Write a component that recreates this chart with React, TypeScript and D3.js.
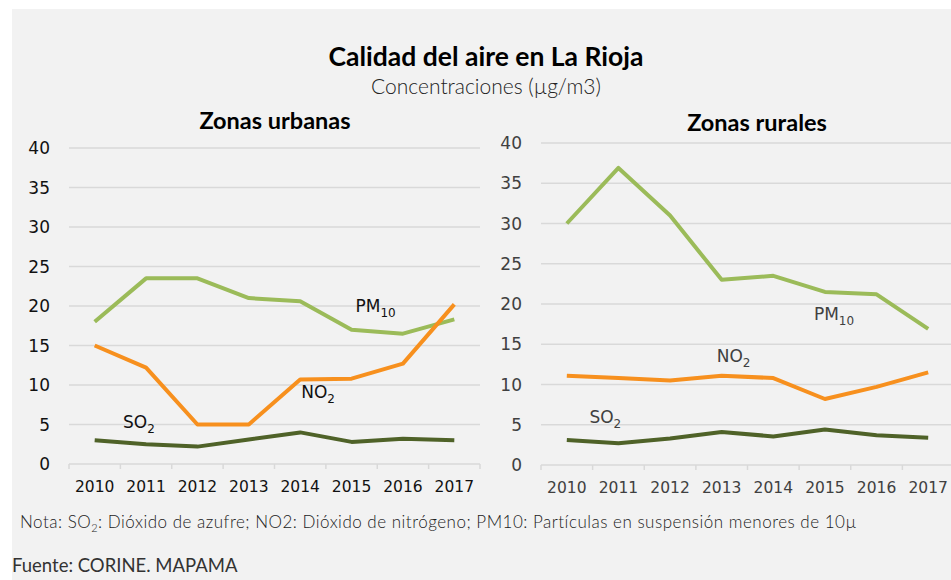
import React from 'react'
import * as d3 from 'd3'

const years = ['2010', '2011', '2012', '2013', '2014', '2015', '2016', '2017']
const yTicks = [0, 5, 10, 15, 20, 25, 30, 35, 40]

// Zonas urbanas
const urbanPM10 = [18.0, 23.5, 23.5, 21.0, 20.6, 17.0, 16.5, 18.3]
const urbanNO2 = [15.0, 12.2, 5.0, 5.0, 10.7, 10.8, 12.7, 20.2]
const urbanSO2 = [3.0, 2.5, 2.2, 3.1, 4.0, 2.8, 3.2, 3.0]

// Zonas rurales
const ruralPM10 = [30.0, 36.9, 31.0, 23.0, 23.5, 21.5, 21.2, 16.9]
const ruralNO2 = [11.1, 10.8, 10.5, 11.1, 10.8, 8.2, 9.7, 11.5]
const ruralSO2 = [3.1, 2.7, 3.3, 4.1, 3.55, 4.4, 3.7, 3.4]

const GREEN = '#9bbb59'
const ORANGE = '#f7901e'
const OLIVE = '#4f6228'
const GRID = '#d9d9d9'
const AXIS_FONT = 'DejaVu Sans, Verdana, sans-serif'
const TITLE_FONT = 'Lato, Open Sans, sans-serif'

type Label = { text: string; sub: string; year: string; value: number; dx: number }

type PanelProps = {
  title: string
  titleX: number
  titleY: number
  x0: number
  x1: number
  yTop: number
  yBottom: number
  labelX: number
  labelColor: string
  pm10: number[]
  no2: number[]
  so2: number[]
  labels: Label[]
}

const Panel = (p: PanelProps) => {
  const xScale = d3.scaleBand().domain(years).range([p.x0, p.x1])
  const yScale = d3.scaleLinear().domain([0, 40]).range([p.yBottom, p.yTop])
  const cx = (y: string) => (xScale(y) ?? 0) + xScale.bandwidth() / 2
  const line = d3
    .line<number>()
    .x((d, i) => cx(years[i]))
    .y((d) => yScale(d))

  const series = [
    { values: p.pm10, color: GREEN },
    { values: p.no2, color: ORANGE },
    { values: p.so2, color: OLIVE },
  ]

  return (
    <g>
      <text
        x={p.titleX}
        y={p.titleY}
        textAnchor="middle"
        fontFamily={TITLE_FONT}
        fontWeight={700}
        fontSize={23.5}
        fill="#000"
      >
        {p.title}
      </text>
      {/* grid */}
      {yTicks.map((t) => (
        <g key={t}>
          <line
            x1={p.x0}
            x2={p.x1}
            y1={yScale(t)}
            y2={yScale(t)}
            stroke={GRID}
            strokeWidth={1.5}
          />
          <text
            x={p.labelX}
            y={yScale(t)}
            dy="0.36em"
            textAnchor="end"
            fontFamily={AXIS_FONT}
            fontSize={17}
            fill={p.labelColor}
          >
            {t}
          </text>
        </g>
      ))}
      {/* x ticks */}
      {years.concat(['end']).map((y, i) => {
        const x = p.x0 + i * xScale.bandwidth()
        return (
          <line
            key={y}
            x1={x}
            x2={x}
            y1={p.yBottom}
            y2={p.yBottom + 5}
            stroke={GRID}
            strokeWidth={1.5}
          />
        )
      })}
      {years.map((y) => (
        <text
          key={y}
          x={cx(y)}
          y={p.yBottom + 28}
          textAnchor="middle"
          fontFamily={AXIS_FONT}
          fontSize={15.5}
          fill={p.labelColor}
        >
          {y}
        </text>
      ))}
      {series.map((s, i) => (
        <path
          key={i}
          d={line(s.values) ?? ''}
          fill="none"
          stroke={s.color}
          strokeWidth={4}
          strokeLinejoin="round"
        />
      ))}
      {p.labels.map((l) => (
        <text
          key={l.text}
          x={cx(l.year) + l.dx}
          y={yScale(l.value)}
          fontFamily={AXIS_FONT}
          fontSize={17}
          fill={p.labelColor}
        >
          {l.text}
          <tspan dy={5} fontSize={12}>
            {l.sub}
          </tspan>
        </text>
      ))}
    </g>
  )
}

const App = () => {
  return (
    <svg
      width={951}
      height={580}
      style={{ position: 'absolute', left: 0, top: 0, display: 'block' }}
    >
      <rect x={0} y={0} width={951} height={580} fill="#fff" />
      <rect x={12} y={9} width={939} height={571} fill="#f2f2f2" />
      <text
        x={486}
        y={66}
        textAnchor="middle"
        fontFamily={TITLE_FONT}
        fontWeight={700}
        fontSize={26.5}
        fill="#000"
      >
        Calidad del aire en La Rioja
      </text>
      <text
        x={486}
        y={94}
        textAnchor="middle"
        fontFamily={TITLE_FONT}
        fontWeight={300}
        fontSize={21}
        fill="#222"
      >
        Concentraciones (µg/m3)
      </text>
      <Panel
        title="Zonas urbanas"
        titleX={275}
        titleY={129}
        x0={69}
        x1={480}
        yTop={148}
        yBottom={464}
        labelX={50}
        labelColor="#111"
        pm10={urbanPM10}
        no2={urbanNO2}
        so2={urbanSO2}
        labels={[
          { text: 'PM', sub: '10', year: '2015', value: 19.2, dx: 4 },
          { text: 'NO', sub: '2', year: '2014', value: 8.3, dx: 1 },
          { text: 'SO', sub: '2', year: '2011', value: 4.5, dx: -23 },
        ]}
      />
      <Panel
        title="Zonas rurales"
        titleX={757}
        titleY={131}
        x0={541}
        x1={954}
        yTop={143}
        yBottom={465}
        labelX={522}
        labelColor="#404040"
        pm10={ruralPM10}
        no2={ruralNO2}
        so2={ruralSO2}
        labels={[
          { text: 'PM', sub: '10', year: '2015', value: 18, dx: -11 },
          { text: 'NO', sub: '2', year: '2013', value: 12.8, dx: -5 },
          { text: 'SO', sub: '2', year: '2011', value: 5.2, dx: -29 },
        ]}
      />
      <text
        x={20}
        y={528}
        fontFamily={TITLE_FONT}
        fontWeight={300}
        fontSize={17}
        letterSpacing={0.5}
        fill="#222"
      >
        Nota: SO<tspan dy={4} fontSize={11}>2</tspan>
        <tspan dy={-4}>: Dióxido de azufre; NO2: Dióxido de nitrógeno; PM10: Partículas en suspensión menores de 10µ</tspan>
      </text>
      <text x={12} y={572} fontFamily={TITLE_FONT} fontSize={18.5} fill="#333">
        Fuente: CORINE. MAPAMA
      </text>
    </svg>
  )
}

export default App
